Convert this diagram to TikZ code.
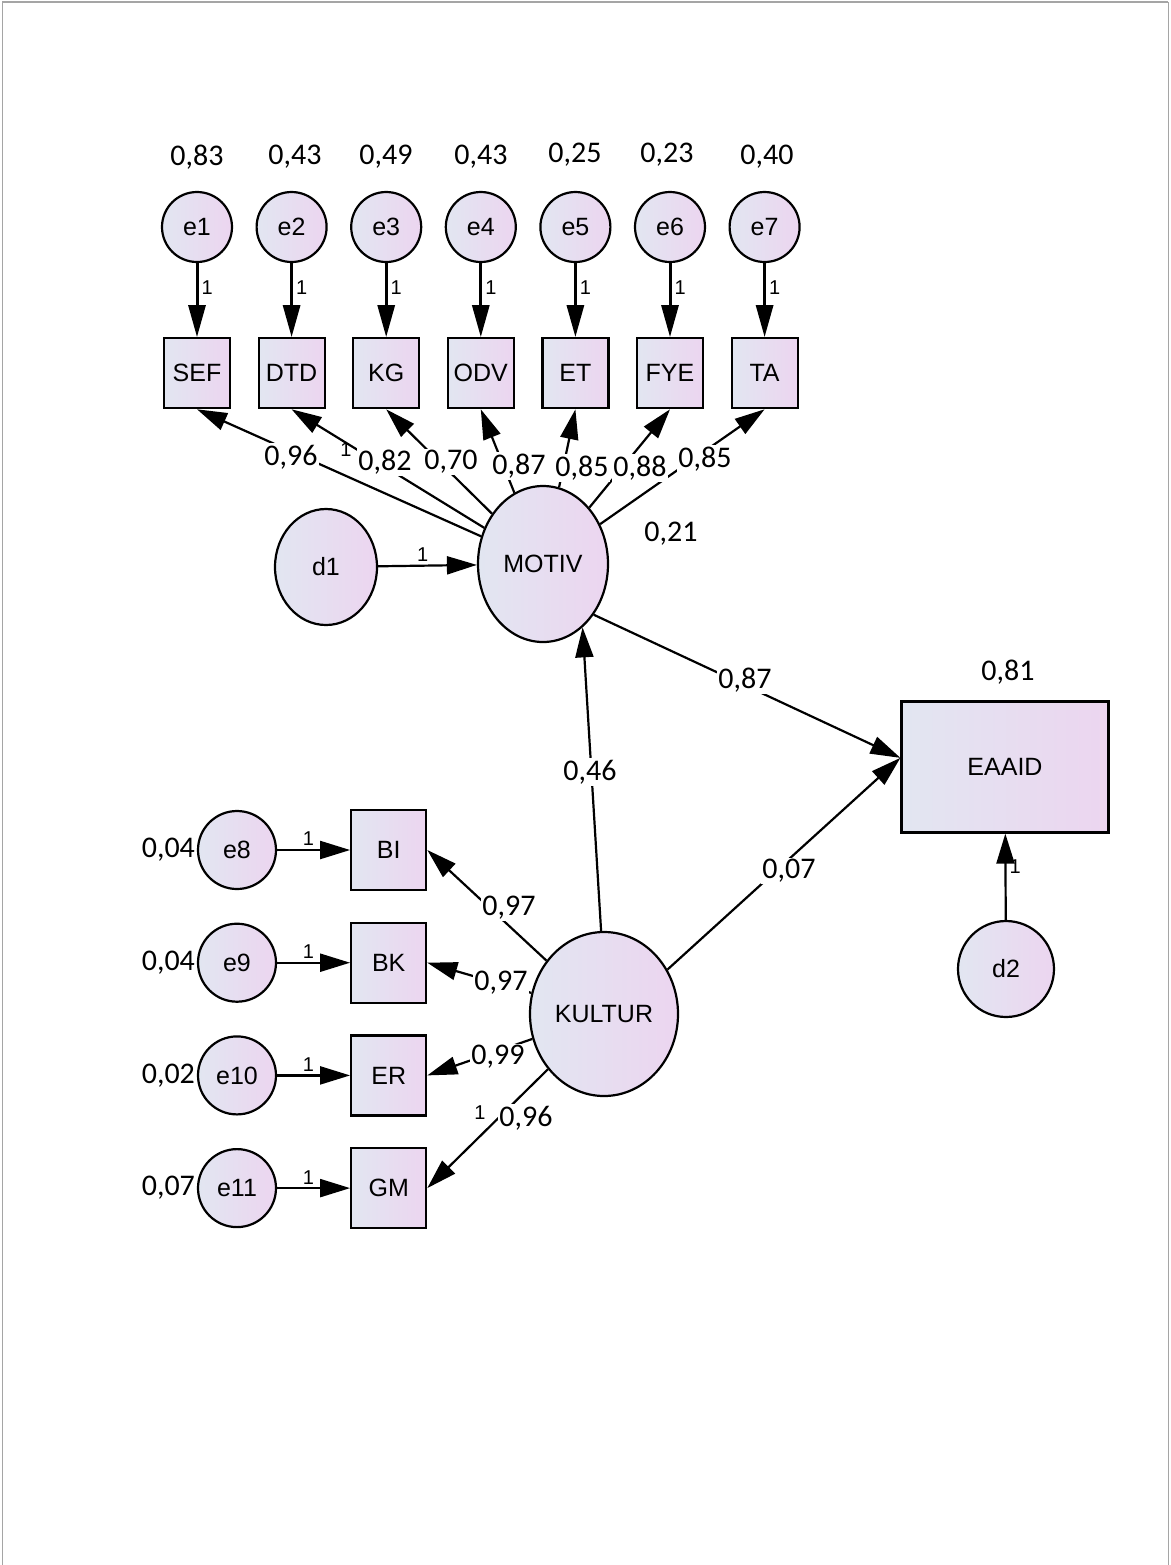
\documentclass[tikz,border=0pt]{standalone}
\usepackage{fontspec}
\setmainfont{Liberation Sans}
\newfontfamily\coeffont{Carlito}
\usetikzlibrary{positioning,arrows.meta,shapes.geometric,calc}
\definecolor{semA}{RGB}{226,230,241}
\definecolor{semB}{RGB}{236,213,240}
\definecolor{framegray}{RGB}{165,165,165}
\begin{document}
\begin{tikzpicture}[x=0.5pt, y=-0.5pt, >={Triangle[length=15pt,width=9pt]},
  font=\fontsize{12.5}{14}\selectfont,
  semfill/.style={left color=semA, right color=semB},
  err/.style={draw, circle, semfill, line width=1.1pt, minimum size=35pt, inner sep=0pt},
  errl/.style={err, minimum size=39pt},
  ind/.style={draw, semfill, line width=1.1pt, minimum width=33pt, minimum height=35pt, inner sep=0pt},
  indl/.style={ind, minimum width=37.5pt, minimum height=40pt},
  lat/.style={draw, ellipse, semfill, line width=1.1pt, inner sep=0pt},
  coef/.style={font=\coeffont\fontsize{15}{17}\selectfont, inner sep=0.8pt},
  wcoef/.style={coef, fill=white},
  one/.style={font=\fontsize{10}{11}\selectfont, inner sep=1.5pt},
  link/.style={->, line width=1.1pt}]
  \useasboundingbox (0,0) rectangle (1171,1565);
  \draw[framegray, line width=0.5pt] (2,1565) -- (2,2) (1168,2) -- (1168,1565);
  \draw[framegray, line width=1pt] (2,2) -- (1168,2);
  % MOTIV indicators
  \node[err](e1) at (197,227){e1};
  \node[err,right=11.2pt of e1](e2){e2};
  \node[err,right=11.2pt of e2](e3){e3};
  \node[err,right=11.2pt of e3](e4){e4};
  \node[err,right=11.2pt of e4](e5){e5};
  \node[err,right=11.2pt of e5](e6){e6};
  \node[err,right=11.2pt of e6](e7){e7};
  \node[ind,below=37pt of e1](SEF){SEF};
  \node[ind,below=37pt of e2](DTD){DTD};
  \node[ind,below=37pt of e3](KG){KG};
  \node[ind,below=37pt of e4](ODV){ODV};
  \node[ind,below=37pt of e5](ET){ET};
  \node[ind,below=37pt of e6](FYE){FYE};
  \node[ind,below=37pt of e7](TA){TA};
  \node[coef](v1) at (197,157){0,83};
  \node[coef](v2) at (295,157){0,43};
  \node[coef](v3) at (386,157){0,49};
  \node[coef](v4) at (481,157){0,43};
  \node[coef](v5) at (575,155){0,25};
  \node[coef](v6) at (667,155){0,23};
  \node[coef](v7) at (767,157){0,40};
  % latent variables
  \node[lat,minimum width=65pt,minimum height=78pt](MOTIV) at (543,564){MOTIV};
  \node[lat,minimum width=51pt,minimum height=58pt](d1) at (326,567){d1};
  \node[lat,minimum width=74pt,minimum height=82pt](KULTUR) at (604,1014){KULTUR};
  \node[ind,minimum width=103.5pt,minimum height=65.5pt](EAAID) at (1005,767){EAAID};
  \node[err,minimum size=48pt](d2) at (1006,969){d2};
  \node[coef](vE) at (1008,672){0,81};
  \node[coef](vM) at (671,534){0,21};
  % KULTUR indicators
  \node[errl](e8) at (237,850){e8};
  \node[errl,below=16.25pt of e8](e9){e9};
  \node[errl,below=16.25pt of e9](e10){e10};
  \node[errl,below=16.25pt of e10](e11){e11};
  \node[indl,right=36.5pt of e8](BI){BI};
  \node[indl,right=36.5pt of e9](BK){BK};
  \node[indl,right=36.5pt of e10](ER){ER};
  \node[indl,right=36.5pt of e11](GM){GM};
  \node[coef,left=0pt of e8](v8){0,04};
  \node[coef,left=0pt of e9](v9){0,04};
  \node[coef,left=0pt of e10](v10){0,02};
  \node[coef,left=0pt of e11](v11){0,07};
  % error paths
  \draw[link,line width=1.5pt,>={Triangle[length=16pt,width=8.5pt]}](e1) -- node[one,right,pos=0.33](o1){1} (SEF);
  \draw[link,line width=1.5pt,>={Triangle[length=16pt,width=8.5pt]}](e2) -- node[one,right,pos=0.33](o2){1} (DTD);
  \draw[link,line width=1.5pt,>={Triangle[length=16pt,width=8.5pt]}](e3) -- node[one,right,pos=0.33](o3){1} (KG);
  \draw[link,line width=1.5pt,>={Triangle[length=16pt,width=8.5pt]}](e4) -- node[one,right,pos=0.33](o4){1} (ODV);
  \draw[link,line width=1.5pt,>={Triangle[length=16pt,width=8.5pt]}](e5) -- node[one,right,pos=0.33](o5){1} (ET);
  \draw[link,line width=1.5pt,>={Triangle[length=16pt,width=8.5pt]}](e6) -- node[one,right,pos=0.33](o6){1} (FYE);
  \draw[link,line width=1.5pt,>={Triangle[length=16pt,width=8.5pt]}](e7) -- node[one,right,pos=0.33](o7){1} (TA);
  \draw[link](e8) -- node[one,above,pos=0.43](o8){1} (BI);
  \draw[link](e9) -- node[one,above,pos=0.43](o9){1} (BK);
  \draw[link](e10) -- node[one,above,pos=0.43](o10){1} (ER);
  \draw[link](e11) -- node[one,above,pos=0.43](o11){1} (GM);
  \draw[link](d1) -- node[one,above,pos=0.45](o12){1} (MOTIV);
  \draw[link](d2) -- node[one,right,pos=0.62](o13){1} (EAAID);
  % loadings
  \draw[link](MOTIV) -- (SEF.south);
  \draw[link](MOTIV) -- (DTD.south);
  \draw[link](MOTIV) -- (KG.south);
  \draw[link](MOTIV) -- (ODV.south);
  \draw[link](MOTIV) -- (ET.south);
  \draw[link](MOTIV) -- (FYE.south);
  \draw[link](MOTIV) -- (TA.south);
  \draw[link](KULTUR) -- (BI.east);
  \draw[link](KULTUR) -- (BK.east);
  \draw[link](KULTUR) -- (ER.east);
  \draw[link](KULTUR) -- (GM.east);
  % structural paths
  \draw[link](KULTUR.92) -- (MOTIV.-58);
  \draw[link](MOTIV.-45) -- (EAAID.175);
  \draw[link](KULTUR.35) -- (EAAID.175);
  % coefficients
  \node[wcoef](c1) at (291,457){0,96};
  \node[one](x1) at (346,450){1};
  \node[wcoef](c2) at (385,462){0,82};
  \node[wcoef](c3) at (451,462){0,70};
  \node[wcoef](c4) at (519,466){0,87};
  \node[wcoef](c5) at (582,468){0,85};
  \node[wcoef](c6) at (640,468){0,88};
  \node[wcoef](c7) at (705,459){0,85};
  \node[wcoef](c8) at (509,908){0,97};
  \node[wcoef](c9) at (501,983){0,97};
  \node[wcoef](c10) at (498,1057){0,99};
  \node[one](x2) at (480,1113){1};
  \node[wcoef](c11) at (526,1118){0,96};
  \node[wcoef](cKM) at (590,772){0,46};
  \node[wcoef](cME) at (745,680){0,87};
  \node[wcoef](cKE) at (789,871){0,07};
\end{tikzpicture}
\end{document}
